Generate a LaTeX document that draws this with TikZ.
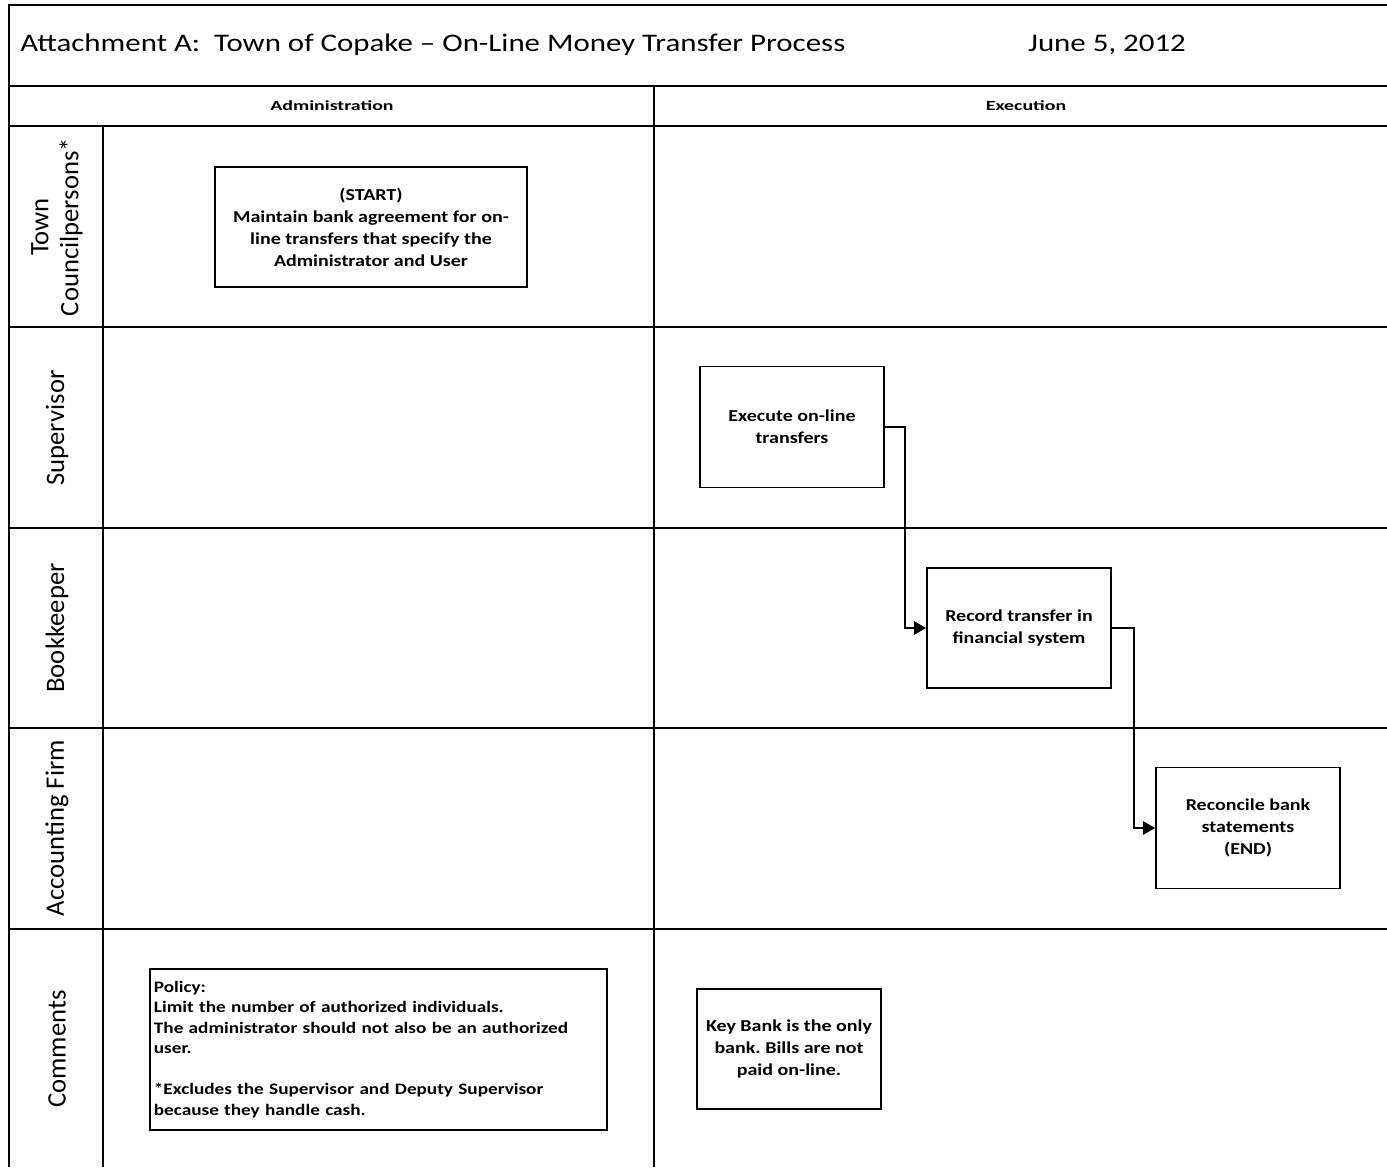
\documentclass[tikz,border=0pt]{standalone}
\usepackage{fontspec}
\setmainfont{Carlito}
\usetikzlibrary{arrows.meta}
\frenchspacing
\begin{document}
\begin{tikzpicture}[x=0.75pt,y=-0.75pt,
  grid/.style={line width=1.4pt, black},
  stepfont/.style={font=\fontsize{12.5}{16.5}\selectfont\bfseries\addfontfeatures{FakeStretch=1.2}},
  stepbox/.style={draw, line width=1.4pt, align=center, inner sep=2pt, stepfont},
  lanelabel/.style={rotate=90, align=center, font=\fontsize{20}{22.5}\selectfont},
  colhead/.style={font=\fontsize{10.5}{12}\selectfont\bfseries\addfontfeatures{FakeStretch=1.42}},
  titlefont/.style={font=\fontsize{19}{22}\selectfont\addfontfeatures{FakeStretch=1.22}},
  flow/.style={line width=1.4pt, -{Triangle[length=9pt,width=10pt]}}]
\useasboundingbox (0,0) rectangle (1387,1167);

% frame and swimlane grid
\draw[grid] (1387,5) -- (9,5) -- (9,1167);
\draw[grid] (9,86) -- (1387,86);
\draw[grid] (9,126) -- (1387,126);
\draw[grid] (9,327) -- (1387,327);
\draw[grid] (9,528) -- (1387,528);
\draw[grid] (9,728) -- (1387,728);
\draw[grid] (9,929) -- (1387,929);
\draw[grid] (103,126) -- (103,1167);
\draw[grid] (654,86) -- (654,1167);

% title row
\node[anchor=west, titlefont, inner sep=0pt] (title) at (20,45)
  {Attachment A:\ \ Town of Copake -- On-Line Money Transfer Process};
\node[titlefont] (date) at (1107,45) {June 5, 2012};

% column headers
\node[colhead] (hadmin) at (332,106) {Administration};
\node[colhead] (hexec) at (1026,106) {Execution};

% lane labels
\node[lanelabel] (ltown) at (57,227) {Town\\Councilpersons*};
\node[lanelabel] (lsup) at (57,428) {Supervisor};
\node[lanelabel] (lbook) at (57,628) {Bookkeeper};
\node[lanelabel] (lacct) at (57,828) {Accounting Firm};
\node[lanelabel] (lcomm) at (57,1049) {Comments};

% process steps
\node[stepbox, minimum width=312*0.75pt, minimum height=120*0.75pt] (start) at (371,227)
  {(START)\\Maintain bank agreement for on-\\line transfers that specify the\\Administrator and User};
\node[stepbox, minimum width=184*0.75pt, minimum height=121*0.75pt] (exec) at (792,427)
  {Execute on-line\\transfers};
\node[stepbox, minimum width=184*0.75pt, minimum height=120*0.75pt] (record) at (1019,628)
  {Record transfer in\\financial system};
\node[stepbox, minimum width=184*0.75pt, minimum height=121*0.75pt] (recon) at (1248,828)
  {Reconcile bank\\statements\\(END)};

% comments
\node[draw, line width=1.4pt, anchor=west, inner xsep=3pt, inner ysep=2pt,
  minimum height=161*0.75pt, text width=449*0.75pt, align=left,
  font=\fontsize{12}{15.4}\selectfont\bfseries\addfontfeatures{FakeStretch=1.2}] (policy) at (149,1049.5)
  {Policy:\\Limit the number of authorized individuals.\\The administrator should not also be an authorized\\user.\\[15.4pt]*Excludes the Supervisor and Deputy Supervisor\\because they handle cash.};
\node[stepbox, minimum width=184*0.75pt, minimum height=120*0.75pt] (keybank) at (789,1049)
  {Key Bank is the only\\bank. Bills are not\\paid on-line.};

% flow connectors
\draw[flow] (exec.east) -- ++(20,0) |- (record.west);
\draw[flow] (record.east) -- ++(22,0) |- (recon.west);
\end{tikzpicture}
\end{document}
